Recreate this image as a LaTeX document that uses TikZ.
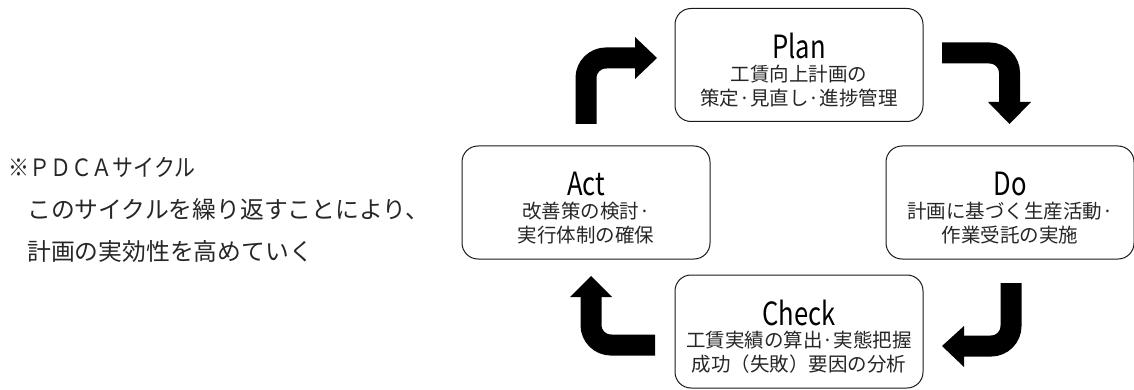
\documentclass[tikz,border=0pt]{standalone}
\usepackage{fontspec}
\usepackage{graphicx}
\setmainfont{Noto Sans CJK JP}
\newfontfamily\jpfont{Noto Sans CJK JP}
\newfontfamily\titlefont[FakeStretch=0.8]{Noto Sans CJK JP}
\usetikzlibrary{calc}
\begin{document}
\begin{tikzpicture}[x=1pt,y=-1pt,
  pdcabox/.style={draw=black!90,line width=1pt,rounded corners=16pt,minimum width=248pt,minimum height=113pt,inner sep=0pt},
  ttl/.style={font=\titlefont\fontsize{32}{33}\selectfont,text=black,inner sep=0pt},
  sub/.style={font=\jpfont\fontsize{19.5}{21}\selectfont,text=black!85,inner sep=0pt},
  side/.style={font=\jpfont\fontsize{23.8}{25}\selectfont,text=black!85,inner sep=0pt,anchor=west},
  shaft/.style={draw=black,line width=21pt,rounded corners=20pt},
  head/.style={fill=black,draw=none}]
\useasboundingbox (0,0) rectangle (1134,390);
% boxes
\node[pdcabox] (plan) at (799,65) {};
\node[pdcabox] (do) at (1010,202.5) {};
\node[pdcabox] (act) at (586,202.5) {};
\node[pdcabox] (check) at (799,331.5) {};
% texts
\foreach \b/\t/\la/\lb in {plan/Plan/工賃向上計画の/策定·見直し·進捗管理,
                           do/Do/計画に基づく生産活動·/作業受託の実施,
                           act/Act/改善策の検討·/実行体制の確保,
                           check/Check/工賃実績の算出·実態把握/成功（失敗）要因の分析}{
  \node[ttl] (\b-t) at ($(\b.north)+(0,38)$) {\t};
  \node[sub] (\b-a) at ($(\b.north)+(0,66)$) {\la};
  \node[sub] (\b-b) at ($(\b.north)+(0,90)$) {\lb};
}
% side text
\node[side] (s1) at (8,167) {\scalebox{0.88}[1]{※ＰＤＣＡサイクル}};
\node[side] (s2) at (27,209) {このサイクルを繰り返すことにより、};
\node[side] (s3) at (27,251) {計画の実効性を高めていく};
% arrows: act -> plan
\coordinate (a1s) at (586,124);
\coordinate (a1c) at (586,58);
\coordinate (a1e) at (636,58);
\draw[shaft] (a1s) -- (a1c) -- (a1e);
\fill[head] (635,37) -- (657,58) -- (635,79) -- cycle;
% plan -> do
\coordinate (a2s) at (942,53);
\coordinate (a2c) at (1009.5,53);
\coordinate (a2e) at (1009.5,103);
\draw[shaft] (a2s) -- (a2c) -- (a2e);
\fill[head] (988,102) -- (1031,102) -- (1009.5,124) -- cycle;
% do -> check
\coordinate (a3s) at (1011,283);
\coordinate (a3c) at (1011,346);
\coordinate (a3e) at (963,346);
\draw[shaft] (a3s) -- (a3c) -- (a3e);
\fill[head] (964,326) -- (942,346) -- (964,367) -- cycle;
% check -> act
\coordinate (a4s) at (655,345);
\coordinate (a4c) at (591,345);
\coordinate (a4e) at (591,296);
\draw[shaft] (a4s) -- (a4c) -- (a4e);
\fill[head] (570,297) -- (591,276) -- (612,297) -- cycle;
\end{tikzpicture}
\end{document}
